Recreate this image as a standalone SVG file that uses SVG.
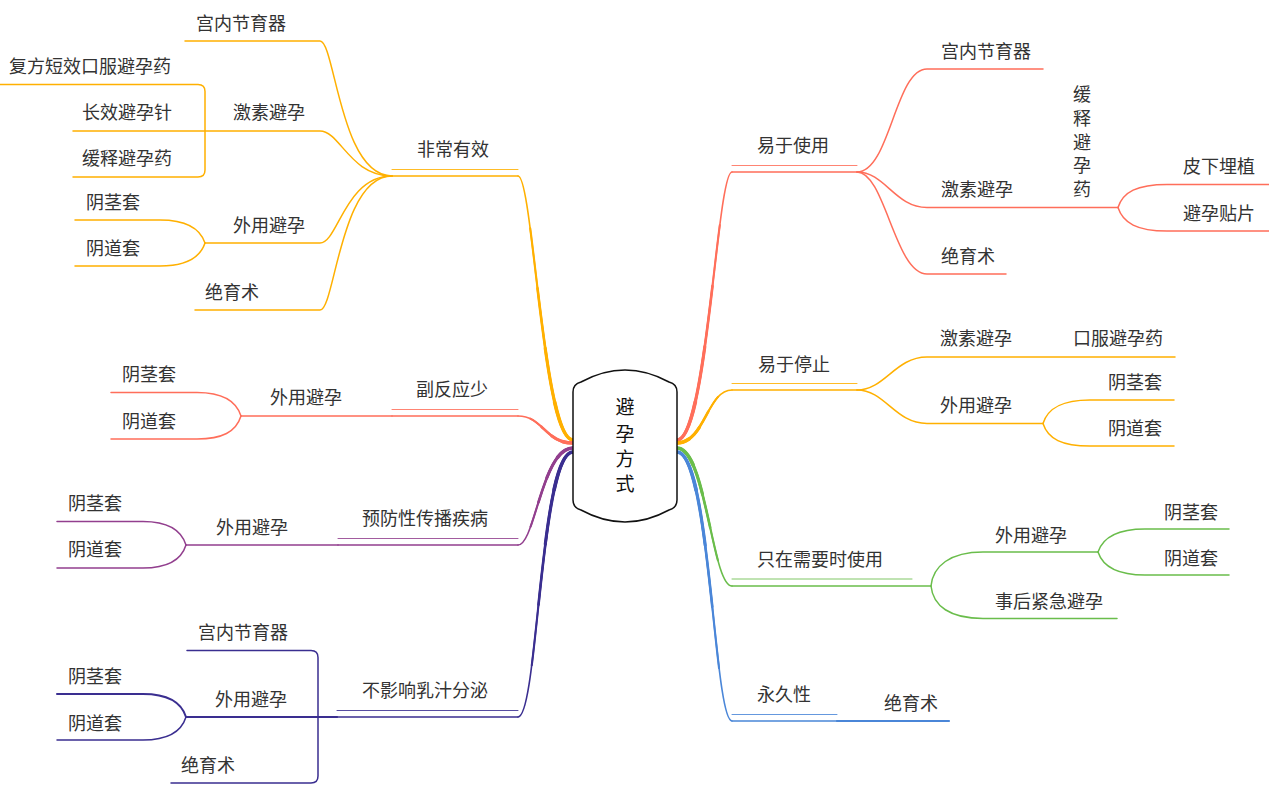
<svg xmlns="http://www.w3.org/2000/svg" xmlns:xlink="http://www.w3.org/1999/xlink" width="1269" height="792" viewBox="0 0 1269 792">
<style>
.t{font-family:"Noto Sans CJK SC","Noto Sans CJK JP",sans-serif;font-size:18px;fill:#333}
.ct{font-family:"Noto Sans CJK SC","Noto Sans CJK JP",sans-serif;font-size:19px;fill:#111;text-anchor:middle}
.c{fill:none;stroke-linecap:round;stroke-linejoin:round;stroke-width:1.5}
.u1{stroke-width:1;opacity:.85}
.w1{fill:none;stroke-width:1.6;stroke-linecap:round}
.w2{fill:none;stroke-width:2.1;stroke-dasharray:80 200;stroke-linecap:round}
.w3{fill:none;stroke-width:2.6;stroke-dasharray:58 200;stroke-linecap:round}
.w4{fill:none;stroke-width:3.1;stroke-dasharray:36 200;stroke-linecap:round}
.w5{fill:none;stroke-width:3.7;stroke-dasharray:16 200;stroke-linecap:round}
.or{stroke:#FFB000}.sa{stroke:#FF6E5A}.pu{stroke:#923F8E}.nv{stroke:#3A2E90}.gr{stroke:#6ABD4B}.bl{stroke:#4A86D8}
</style>
<defs>
<path id="m1" pathLength="100" d="M573,440 C543,440 533,176 518,176"/>
<path id="m2" pathLength="100" d="M573,443 C545,443 543,416 518,416"/>
<path id="m3" pathLength="100" d="M573,448 C542,448 535,545 518,545"/>
<path id="m4" pathLength="100" d="M573,452 C540,452 538,717 518,717"/>
<path id="m5" pathLength="100" d="M677,440 C707,440 717,172 732,172"/>
<path id="m6" pathLength="100" d="M677,443 C705,443 707,390 732,390"/>
<path id="m7" pathLength="100" d="M677,448 C706,448 712,586 732,586"/>
<path id="m8" pathLength="100" d="M677,452 C710,452 714,721 732,721"/>
<g id="tap">
</g>
</defs>
<g id="connectors">
<!-- main branches (tapered) -->
<g class="or"><use xlink:href="#m1" class="w1"/><use xlink:href="#m1" class="w2"/><use xlink:href="#m1" class="w3"/><use xlink:href="#m1" class="w4"/><use xlink:href="#m1" class="w5"/></g>
<g class="sa"><use xlink:href="#m2" class="w1"/><use xlink:href="#m2" class="w2"/><use xlink:href="#m2" class="w3"/><use xlink:href="#m2" class="w4"/><use xlink:href="#m2" class="w5"/></g>
<g class="pu"><use xlink:href="#m3" class="w1"/><use xlink:href="#m3" class="w2"/><use xlink:href="#m3" class="w3"/><use xlink:href="#m3" class="w4"/><use xlink:href="#m3" class="w5"/></g>
<g class="nv"><use xlink:href="#m4" class="w1"/><use xlink:href="#m4" class="w2"/><use xlink:href="#m4" class="w3"/><use xlink:href="#m4" class="w4"/><use xlink:href="#m4" class="w5"/></g>
<g class="sa"><use xlink:href="#m5" class="w1"/><use xlink:href="#m5" class="w2"/><use xlink:href="#m5" class="w3"/><use xlink:href="#m5" class="w4"/><use xlink:href="#m5" class="w5"/></g>
<g class="or"><use xlink:href="#m6" class="w1"/><use xlink:href="#m6" class="w2"/><use xlink:href="#m6" class="w3"/><use xlink:href="#m6" class="w4"/><use xlink:href="#m6" class="w5"/></g>
<g class="gr"><use xlink:href="#m7" class="w1"/><use xlink:href="#m7" class="w2"/><use xlink:href="#m7" class="w3"/><use xlink:href="#m7" class="w4"/><use xlink:href="#m7" class="w5"/></g>
<g class="bl"><use xlink:href="#m8" class="w1"/><use xlink:href="#m8" class="w2"/><use xlink:href="#m8" class="w3"/><use xlink:href="#m8" class="w4"/><use xlink:href="#m8" class="w5"/></g>
<!-- label double lines -->
<path class="c or u1" d="M392,169.5 H518"/><path class="c or" d="M392,176 H518"/>
<path class="c sa u1" d="M392,409.5 H518"/><path class="c sa" d="M392,416 H518"/>
<path class="c pu u1" d="M338,538.5 H518"/><path class="c pu" d="M338,545 H518"/>
<path class="c nv u1" d="M337,710.5 H518"/><path class="c nv" d="M337,717 H518"/>
<path class="c sa u1" d="M732,165.5 H857"/><path class="c sa" d="M732,172 H857"/>
<path class="c or u1" d="M732,383.5 H857"/><path class="c or" d="M732,390 H857"/>
<path class="c gr u1" d="M732,579 H912"/><path class="c gr" d="M732,586 H931"/>
<path class="c bl u1" d="M732,714.5 H837"/><path class="c bl" d="M732,721 H837"/>
<!-- 非常有效 -->
<path class="c or" d="M392,176 C340,176 335,41 320,41 H185"/>
<path class="c or" d="M392,176 C350,176 340,131 320,131 H73"/>
<path class="c or" d="M0,84.5 H198 Q205,84.5 205,91.5 V170 Q205,177 198,177 H73"/>
<path class="c or" d="M392,176 C345,176 338,243 320,243 H205"/>
<path class="c or" d="M205,243 C200,228 186,220 160,220 H75"/>
<path class="c or" d="M205,243 C200,258 186,266 160,266 H75"/>
<path class="c or" d="M392,176 C340,176 335,310 320,310 H195"/>
<!-- 副反应少 -->
<path class="c sa" d="M392,416 H241"/>
<path class="c sa" d="M241,416 C236,400 222,392.5 197,392.5 H111"/>
<path class="c sa" d="M241,416 C236,432 222,439 197,439 H111"/>
<!-- 预防性传播疾病 -->
<path class="c pu" d="M338,545 H186"/>
<path class="c pu" d="M186,545 C181,529 167,521.5 143,521.5 H57"/>
<path class="c pu" d="M186,545 C181,561 167,568 143,568 H57"/>
<!-- 不影响乳汁分泌 -->
<path class="c nv" style="stroke-width:2.2" d="M337,717 H186"/>
<path class="c nv" d="M187,650.5 H311 Q318,650.5 318,657.5 V776 Q318,783 311,783 H171"/>
<path class="c nv" style="stroke-width:2" d="M186,717 C181,701 167,694 143,694 H57"/>
<path class="c nv" d="M186,717 C181,733 167,740 143,740 H57"/>
<!-- 易于使用 -->
<path class="c sa" d="M857,172 C890,172 895,69 927,69 H1043"/>
<path class="c sa" d="M857,172 C885,172 895,207.5 927,207.5 H1118"/>
<path class="c sa" d="M857,172 C885,172 895,274 927,274 H1006"/>
<path class="c sa" d="M1118,207.5 C1123,192 1137,184.5 1167,184.5 H1269"/>
<path class="c sa" d="M1118,207.5 C1123,223 1137,231 1167,231 H1269"/>
<!-- 易于停止 -->
<path class="c or" d="M857,390 C885,390 895,357 927,357 H1175"/>
<path class="c or" d="M857,390 C885,390 895,423.5 927,423.5 H1043"/>
<path class="c or" d="M1043,423.5 C1048,408 1062,400 1090,400 H1174"/>
<path class="c or" d="M1043,423.5 C1048,439 1062,446 1090,446 H1174"/>
<!-- 只在需要时使用 -->
<path class="c gr" d="M931,586 C933,566 950,552 983,552 H1098"/>
<path class="c gr" d="M931,586 C933,606 950,618.5 983,618.5 H1117"/>
<path class="c gr" d="M1098,552 C1103,537 1117,529 1145,529 H1229"/>
<path class="c gr" d="M1098,552 C1103,567 1117,575 1145,575 H1229"/>
<!-- 永久性 -->
<path class="c bl" style="stroke-width:2.2" d="M837,721 H949"/>
</g>
<g id="root">
<path d="M573,392 Q573,384 581,382 Q625,358 669,382 Q677,384 677,392 L677,500 Q677,508 669,510 Q625,534 581,510 Q573,508 573,500 Z" fill="#fff" stroke="#111" stroke-width="1.5"/>
<text class="ct" x="625" y="414">避</text>
<text class="ct" x="625" y="441">孕</text>
<text class="ct" x="625" y="466">方</text>
<text class="ct" x="625" y="491">式</text>
</g>
<g id="n-feichangyouxiao"><text class="t" x="417" y="155.5">非常有效</text></g>
<g id="n-l-gongnei1"><text class="t" x="196" y="29.5">宫内节育器</text></g>
<g id="n-l-jisu1"><text class="t" x="233" y="118.5">激素避孕</text></g>
<g id="n-l-fufang"><text class="t" x="9" y="72.5">复方短效口服避孕药</text></g>
<g id="n-l-changxiao"><text class="t" x="82" y="118.5">长效避孕针</text></g>
<g id="n-l-huanshi"><text class="t" x="82" y="165">缓释避孕药</text></g>
<g id="n-l-waiyong1"><text class="t" x="233" y="232">外用避孕</text></g>
<g id="n-l-yinjing1"><text class="t" x="86" y="208.5">阴茎套</text></g>
<g id="n-l-yindao1"><text class="t" x="86" y="255">阴道套</text></g>
<g id="n-l-jueyu1"><text class="t" x="205" y="298.5">绝育术</text></g>
<g id="n-fufanying"><text class="t" x="416" y="396">副反应少</text></g>
<g id="n-l-waiyong2"><text class="t" x="270" y="404">外用避孕</text></g>
<g id="n-l-yinjing2"><text class="t" x="122" y="381">阴茎套</text></g>
<g id="n-l-yindao2"><text class="t" x="122" y="427.5">阴道套</text></g>
<g id="n-yufang"><text class="t" x="362" y="525">预防性传播疾病</text></g>
<g id="n-l-waiyong3"><text class="t" x="216" y="533.5">外用避孕</text></g>
<g id="n-l-yinjing3"><text class="t" x="68" y="510">阴茎套</text></g>
<g id="n-l-yindao3"><text class="t" x="68" y="556">阴道套</text></g>
<g id="n-buyingxiang"><text class="t" x="362" y="697">不影响乳汁分泌</text></g>
<g id="n-l-gongnei2"><text class="t" x="198" y="639">宫内节育器</text></g>
<g id="n-l-waiyong4"><text class="t" x="215" y="705.5">外用避孕</text></g>
<g id="n-l-yinjing4"><text class="t" x="68" y="683">阴茎套</text></g>
<g id="n-l-yindao4"><text class="t" x="68" y="729.5">阴道套</text></g>
<g id="n-l-jueyu2"><text class="t" x="181" y="772">绝育术</text></g>
<g id="n-yiyushiyong"><text class="t" x="757" y="152">易于使用</text></g>
<g id="n-r-gongnei"><text class="t" x="941" y="57.5">宫内节育器</text></g>
<g id="n-r-jisu1"><text class="t" x="941" y="196">激素避孕</text></g>
<g id="n-r-huanshi"><text class="t" text-anchor="middle" x="1082" y="101">缓</text><text class="t" text-anchor="middle" x="1082" y="125">释</text><text class="t" text-anchor="middle" x="1082" y="148.5">避</text><text class="t" text-anchor="middle" x="1082" y="172">孕</text><text class="t" text-anchor="middle" x="1082" y="196">药</text></g>
<g id="n-r-pixia"><text class="t" x="1183" y="173">皮下埋植</text></g>
<g id="n-r-tiepian"><text class="t" x="1183" y="219.5">避孕贴片</text></g>
<g id="n-r-jueyu1"><text class="t" x="941" y="263">绝育术</text></g>
<g id="n-yiyutingzhi"><text class="t" x="758" y="371">易于停止</text></g>
<g id="n-r-jisu2"><text class="t" x="940" y="345">激素避孕</text></g>
<g id="n-r-koufu"><text class="t" x="1073" y="345">口服避孕药</text></g>
<g id="n-r-waiyong1"><text class="t" x="940" y="412">外用避孕</text></g>
<g id="n-r-yinjing1"><text class="t" x="1108" y="388.5">阴茎套</text></g>
<g id="n-r-yindao1"><text class="t" x="1108" y="435">阴道套</text></g>
<g id="n-zhizai"><text class="t" x="757" y="566">只在需要时使用</text></g>
<g id="n-r-waiyong2"><text class="t" x="995" y="542">外用避孕</text></g>
<g id="n-r-shihou"><text class="t" x="995" y="607.5">事后紧急避孕</text></g>
<g id="n-r-yinjing2"><text class="t" x="1164" y="518.5">阴茎套</text></g>
<g id="n-r-yindao2"><text class="t" x="1164" y="565">阴道套</text></g>
<g id="n-yongjiu"><text class="t" x="757" y="701">永久性</text></g>
<g id="n-r-jueyu2"><text class="t" x="884" y="709.5">绝育术</text></g>
</svg>
